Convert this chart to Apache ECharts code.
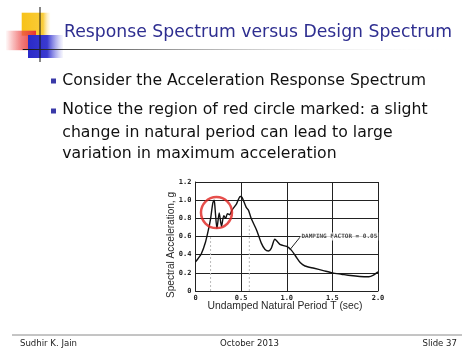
<!DOCTYPE html>
<html><head><meta charset="utf-8">
<script src="https://cdn.jsdelivr.net/npm/echarts@6/dist/echarts.min.js"></script>
<style>html,body{margin:0;padding:0;background:#fff}#c{width:474px;height:355px}</style>
</head><body><div id="c"></div>
<script>
// ---- data ----
const periodT = [0,0.03,0.064,0.11,0.145,0.166,0.19,0.205,0.215,0.235,0.26,0.285,0.31,0.33,0.35,0.375,0.40,0.45,0.49,0.51,0.556,0.58,0.61,0.67,0.72,0.76,0.80,0.83,0.87,0.90,0.93,1.0,1.05,1.1,1.15,1.2,1.3,1.4,1.5,1.6,1.7,1.8,1.9,1.95,2.0];
const spectralAcc = [0.32,0.36,0.41,0.54,0.69,0.80,0.97,1.0,0.90,0.69,0.86,0.71,0.83,0.80,0.85,0.84,0.89,0.96,1.04,1.03,0.92,0.89,0.80,0.67,0.53,0.46,0.44,0.47,0.57,0.54,0.51,0.49,0.45,0.38,0.31,0.275,0.25,0.225,0.2,0.185,0.17,0.16,0.157,0.175,0.21];
const xTickLabels = ['0','0.5','1.0','1.5','2.0'];
const yTickLabels = ['0','0.2','0.4','0.6','0.8','1.0','1.2'];
const circleCenter = [0.23, 0.863];
const dottedGuides = [[0.165, 0.6], [0.59, 0.72]];
const dampingLeader = [[1.035, 0.455], [1.145, 0.592]];
const dampingText = 'DAMPING FACTOR = 0.05';
const dampingAnchor = [1.15, 0.6];
const titleText = 'Response Spectrum versus Design Spectrum';
const bulletLines = ['Consider the Acceleration Response Spectrum','Notice the region of red circle marked: a slight','change in natural period can lead to large','variation in maximum acceleration'];
const footerTexts = ['Sudhir K. Jain','October 2013','Slide 37'];
const xAxisName = 'Undamped Natural Period T (sec)';
const yAxisName = 'Spectral Acceleration, g';

const FONT = 'DejaVu Sans';
const NAMEFONT = 'Liberation Sans';
const cv = document.createElement('canvas').getContext('2d');
function fit(text, family, width, weight){ cv.font = (weight||'normal')+' 100px "'+family+'"'; return 100*width/cv.measureText(text).width; }

const titleSize = fit(titleText, FONT, 388);
const bulletSize = fit(bulletLines[0], FONT, 364);
const footSize = fit(footerTexts[0], FONT, 57);
const xnSize = fit(xAxisName, NAMEFONT, 155);
const ynSize = fit(yAxisName, NAMEFONT, 106);

const curve = periodT.map((t,i)=>[t, spectralAcc[i]]);

const chart = echarts.init(document.getElementById('c'), null, {renderer:'canvas'});
const graphics = [
  {type:'rect', shape:{x:21.7,y:12.7,width:28.5,height:23}, style:{fill:new echarts.graphic.LinearGradient(0,0,1,0,[{offset:0,color:'#f7c21a'},{offset:0.75,color:'#f9cc3a'},{offset:1,color:'rgba(255,240,200,0.2)'}])}, z:1},
  {type:'rect', shape:{x:6,y:30.7,width:30,height:19.5}, style:{fill:new echarts.graphic.LinearGradient(0,0,1,0,[{offset:0,color:'rgba(240,60,60,0.03)'},{offset:0.5,color:'rgba(236,74,74,0.7)'},{offset:1,color:'#e83232'}])}, z:2},
  {type:'rect', shape:{x:28,y:35,width:35,height:23}, style:{fill:new echarts.graphic.LinearGradient(0,0,1,0,[{offset:0,color:'#2a2ac8'},{offset:0.55,color:'#3a3ad0'},{offset:1,color:'rgba(120,120,230,0.05)'}])}, z:3},
  {type:'line', shape:{x1:40,y1:7,x2:40,y2:62}, style:{stroke:'#111',lineWidth:1}, z:4},
  {type:'line', shape:{x1:22.7,y1:49.5,x2:450,y2:49.5}, style:{stroke:new echarts.graphic.LinearGradient(0,0,1,0,[{offset:0,color:'#111'},{offset:0.25,color:'#777'},{offset:1,color:'rgba(255,255,255,0)'}]),lineWidth:1}, z:4},
  {type:'text', x:64, y:33, style:{text:titleText, font:'normal '+titleSize.toFixed(2)+'px "'+FONT+'"', fill:'#2e2e90', textVerticalAlign:'middle'}, z:5},
  {type:'rect', shape:{x:51,y:78.5,width:5,height:5}, style:{fill:'#3a3aa8'}},
  {type:'rect', shape:{x:51,y:108.5,width:5,height:5}, style:{fill:'#3a3aa8'}},
  {type:'line', shape:{x1:12,y1:335,x2:462,y2:335}, style:{stroke:'#8a8a8a',lineWidth:1}},
  {type:'text', x:20, y:343.5, style:{text:footerTexts[0], font:footSize.toFixed(2)+'px "'+FONT+'"', fill:'#222', textVerticalAlign:'middle'}},
  {type:'text', x:249.5, y:343.5, style:{text:footerTexts[1], font:footSize.toFixed(2)+'px "'+FONT+'"', fill:'#222', textAlign:'center', textVerticalAlign:'middle'}},
  {type:'text', x:457, y:343.5, style:{text:footerTexts[2], font:footSize.toFixed(2)+'px "'+FONT+'"', fill:'#222', textAlign:'right', textVerticalAlign:'middle'}},
  {type:'text', x:285, y:306.5, style:{text:xAxisName, font:xnSize.toFixed(2)+'px "'+NAMEFONT+'"', fill:'#2a2a2a', textAlign:'center', textVerticalAlign:'middle'}},
  {type:'text', x:171, y:245, rotation:Math.PI/2, style:{text:yAxisName, font:ynSize.toFixed(2)+'px "'+NAMEFONT+'"', fill:'#2a2a2a', textAlign:'center', textVerticalAlign:'middle'}}
];
const lineYs = [80.7, 110, 132.5, 154.3];
bulletLines.forEach((t,i)=>graphics.push({type:'text', x:62.3, y:lineYs[i], style:{text:t, font:bulletSize.toFixed(2)+'px "'+FONT+'"', fill:'#111', textVerticalAlign:'middle'}}));

const monoLabel = {fontFamily:'DejaVu Sans Mono', fontSize:7, color:'#222', fontWeight:'bold'};
const series = [
  {type:'line', data:curve, smooth:0.25, symbol:'none', lineStyle:{color:'#111', width:1.4}, z:5, silent:true}
];
dottedGuides.forEach(g=>series.push({type:'line', data:[[g[0],0],[g[0],g[1]]], symbol:'none', lineStyle:{color:'#bbb', width:1, type:[2,2]}, z:2, silent:true}));
series.push({type:'line', data:dampingLeader, symbol:'circle', symbolSize:[2.5,0], lineStyle:{color:'#222', width:1}, itemStyle:{color:'#222'}, z:6, silent:true});
series.push({type:'scatter', data:[dampingAnchor], symbolSize:0, z:7, silent:true,
  label:{show:true, position:'right', distance:0, formatter:dampingText, fontFamily:'DejaVu Sans Mono', fontSize:6, fontWeight:'bold', color:'#222', backgroundColor:'#fff', padding:[1,1,1,1]}});
series.push({type:'scatter', data:[circleCenter], symbol:'circle', symbolSize:31, z:10, silent:true,
  itemStyle:{color:'rgba(0,0,0,0)', borderColor:'#e0231f', borderWidth:2.5}});

chart.setOption({
  animation:false,
  graphic:graphics,
  grid:{left:195.5, top:182, right:96, bottom:64},
  xAxis:{type:'value', min:0, max:2, interval:0.5,
    axisLine:{show:true, lineStyle:{color:'#222', width:1}}, axisTick:{show:false},
    splitLine:{show:true, lineStyle:{color:'#222', width:1}},
    axisLabel:Object.assign({margin:4, formatter:v=>xTickLabels[Math.round(v/0.5)]}, monoLabel)},
  yAxis:{type:'value', min:0, max:1.2, interval:0.2,
    axisLine:{show:true, lineStyle:{color:'#222', width:1}}, axisTick:{show:false},
    splitLine:{show:true, lineStyle:{color:'#222', width:1}},
    axisLabel:Object.assign({margin:4, formatter:v=>yTickLabels[Math.round(v/0.2)]}, monoLabel)},
  series:series
});
</script></body></html>
